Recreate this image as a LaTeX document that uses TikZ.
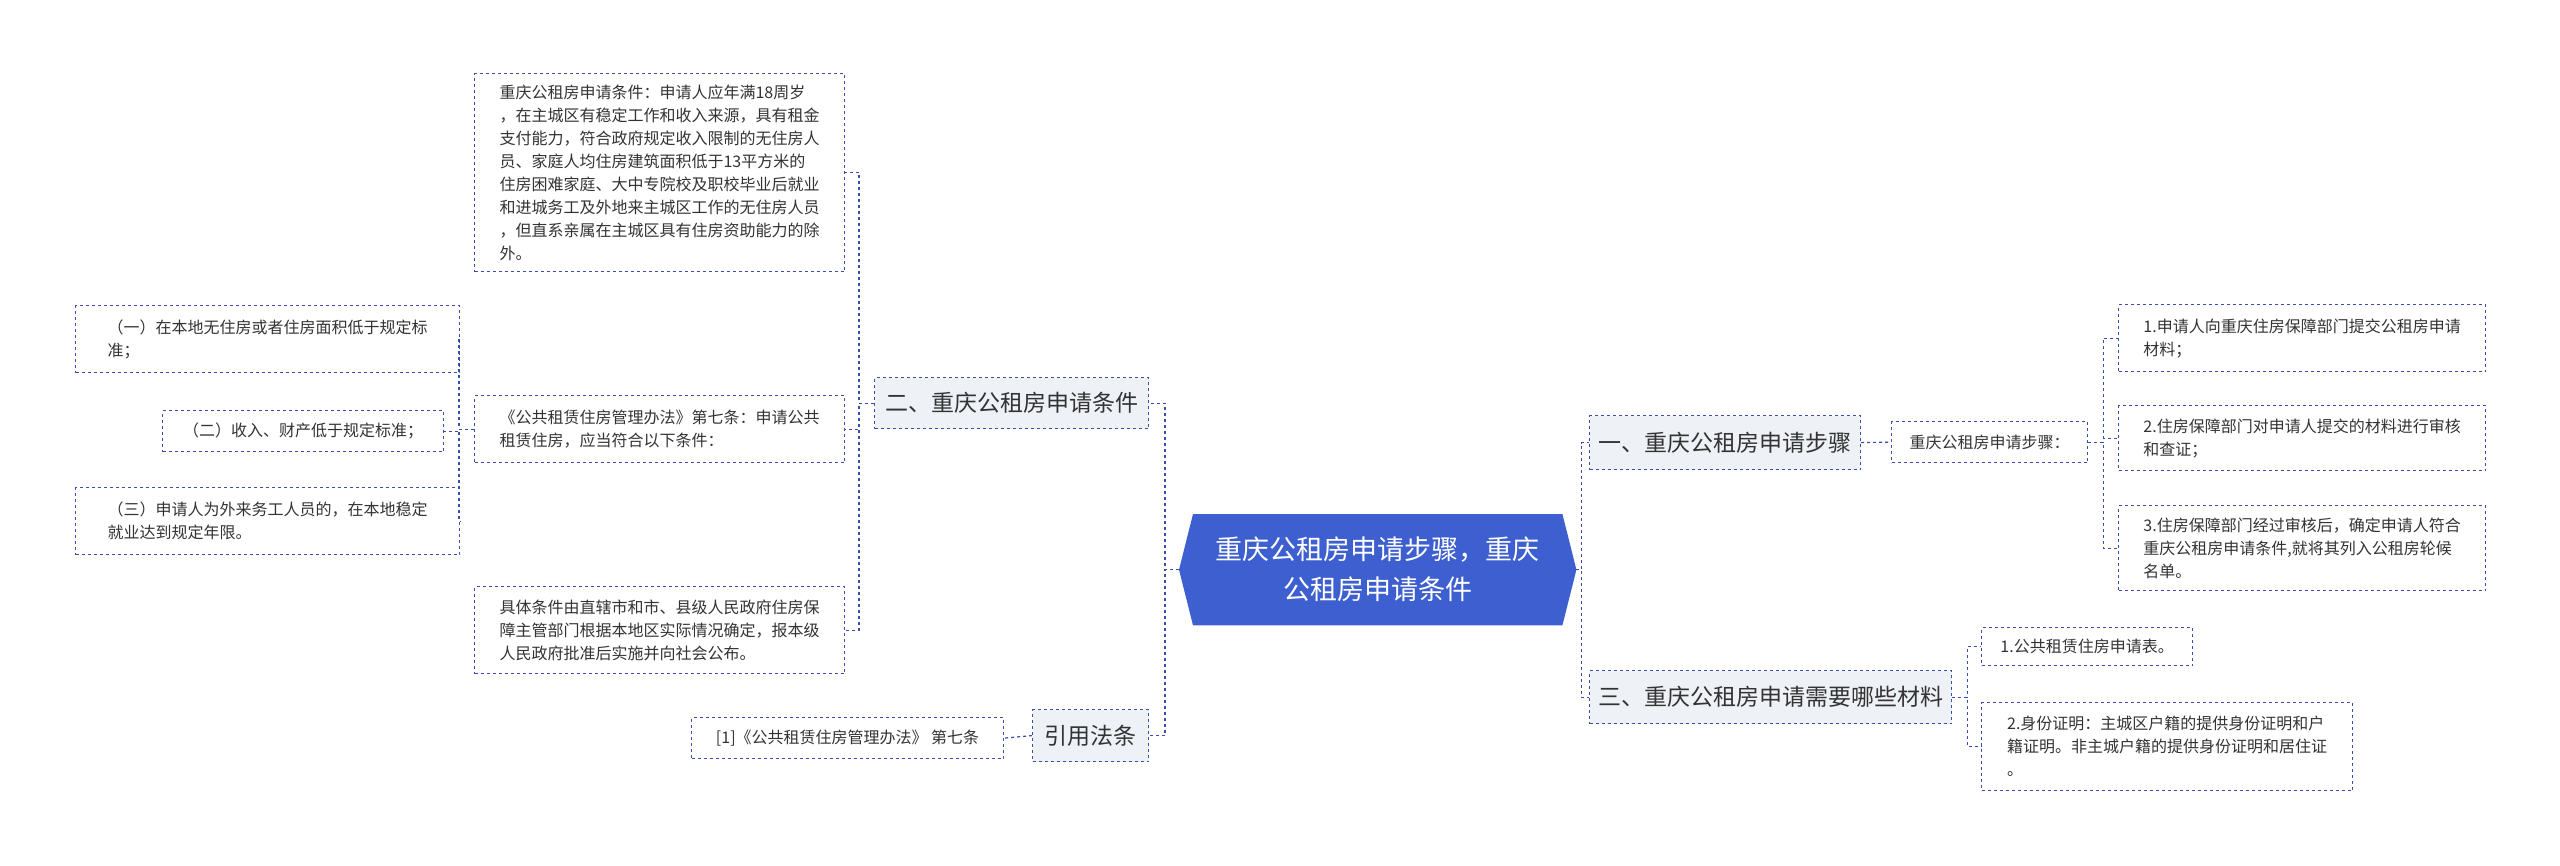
\documentclass[tikz,border=0pt]{standalone}
\usepackage{fontspec}
\setmainfont{Noto Sans CJK SC}
\usetikzlibrary{positioning}
\definecolor{ln}{HTML}{3A4FA8}
\definecolor{tx}{HTML}{333333}
\definecolor{l1}{HTML}{EEF1F6}
\definecolor{cb}{HTML}{3D5FCF}
\tikzset{
 leaf/.style={draw=ln,dashed,line width=1.2pt,fill=white,anchor=north west,align=left,text=tx,font=\fontsize{16}{23}\selectfont,inner xsep=9pt,inner ysep=4pt},
 lone/.style={draw=ln,dashed,line width=1.2pt,fill=l1,anchor=north west,text=tx,font=\fontsize{23}{28}\selectfont,inner xsep=8pt},
 con/.style={draw=ln,dashed,line width=1.2pt},
}
\begin{document}
\begin{tikzpicture}[x=1pt,y=-1pt]
\useasboundingbox (0,0) rectangle (2560,865);
% center
\node[anchor=north west,minimum width=397pt,minimum height=111pt,inner sep=0pt] (c) at (1179,514) {};
\fill[cb] (c.west) -- ([xshift=14pt]c.north west) -- ([xshift=-14pt]c.north east) -- (c.east) -- ([xshift=-14pt]c.south east) -- ([xshift=14pt]c.south west) -- cycle;
\node[align=center,text=white,font=\fontsize{27}{40}\selectfont] at (c.center) {重庆公租房申请步骤，重庆\\公租房申请条件};
% left level1
\node[lone,minimum width=274pt,minimum height=51pt] (b2) at (874,377) {二、重庆公租房申请条件};
\node[lone,minimum width=116pt,minimum height=52pt] (cite) at (1032,709) {引用法条};
% right level1
\node[lone,minimum width=271pt,minimum height=54pt] (b1) at (1589,415) {一、重庆公租房申请步骤};
\node[lone,minimum width=362pt,minimum height=53pt] (b3) at (1589,670) {三、重庆公租房申请需要哪些材料};
% left leaves
\node[leaf,minimum width=370pt,minimum height=198pt] (t1) at (474,73) {重庆公租房申请条件：申请人应年满18周岁\\，在主城区有稳定工作和收入来源，具有租金\\支付能力，符合政府规定收入限制的无住房人\\员、家庭人均住房建筑面积低于13平方米的\\住房困难家庭、大中专院校及职校毕业后就业\\和进城务工及外地来主城区工作的无住房人员\\，但直系亲属在主城区具有住房资助能力的除\\外。};
\node[leaf,minimum width=370pt,minimum height=67pt] (t2) at (474,395) {《公共租赁住房管理办法》第七条：申请公共\\租赁住房，应当符合以下条件：};
\node[leaf,minimum width=370pt,minimum height=87pt] (t3) at (474,586) {具体条件由直辖市和市、县级人民政府住房保\\障主管部门根据本地区实际情况确定，报本级\\人民政府批准后实施并向社会公布。};
\node[leaf,minimum width=384pt,minimum height=67pt] (s1) at (75,305) {（一）在本地无住房或者住房面积低于规定标\\准；};
\node[leaf,minimum width=281pt,minimum height=41pt] (s2) at (162,410) {（二）收入、财产低于规定标准；};
\node[leaf,minimum width=384pt,minimum height=67pt] (s3) at (75,487) {（三）申请人为外来务工人员的，在本地稳定\\就业达到规定年限。};
\node[leaf,minimum width=312pt,minimum height=41pt] (r1) at (691,717) {[1]《公共租赁住房管理办法》 第七条};
% right leaves
\node[leaf,minimum width=196pt,minimum height=41pt] (st) at (1891,421) {重庆公租房申请步骤：};
\node[leaf,minimum width=367pt,minimum height=67pt] (p1) at (2118,304) {1.申请人向重庆住房保障部门提交公租房申请\\材料；};
\node[leaf,minimum width=367pt,minimum height=65pt] (p2) at (2118,405) {2.住房保障部门对申请人提交的材料进行审核\\和查证；};
\node[leaf,minimum width=367pt,minimum height=85pt] (p3) at (2118,505) {3.住房保障部门经过审核后，确定申请人符合\\重庆公租房申请条件,就将其列入公租房轮候\\名单。};
\node[leaf,minimum width=211pt,minimum height=38pt] (m1) at (1981,627) {1.公共租赁住房申请表。};
\node[leaf,minimum width=371pt,minimum height=88pt] (m2) at (1981,702) {2.身份证明：主城区户籍的提供身份证明和户\\籍证明。非主城户籍的提供身份证明和居住证\\。};
% connectors
\foreach \k in {b2,cite} \draw[con] (c.west) -- ++(-14,0) |- (\k.east);
\foreach \k in {b1,b3} \draw[con] (c.east) -- ++(5,0) |- (\k.west);
\foreach \k in {t1,t2,t3} \draw[con] (b2.west) -- ++(-15,0) |- (\k.east);
\foreach \k in {s1,s2,s3} \draw[con] (t2.west) -- ++(-15,0) |- (\k.east);
\draw[con] (cite.west) -- (r1.east);
\draw[con] (b1.east) -- (st.west);
\foreach \k in {p1,p2,p3} \draw[con] (st.east) -- ++(15,0) |- (\k.west);
\foreach \k in {m1,m2} \draw[con] (b3.east) -- ++(15,0) |- (\k.west);
\end{tikzpicture}
\end{document}
